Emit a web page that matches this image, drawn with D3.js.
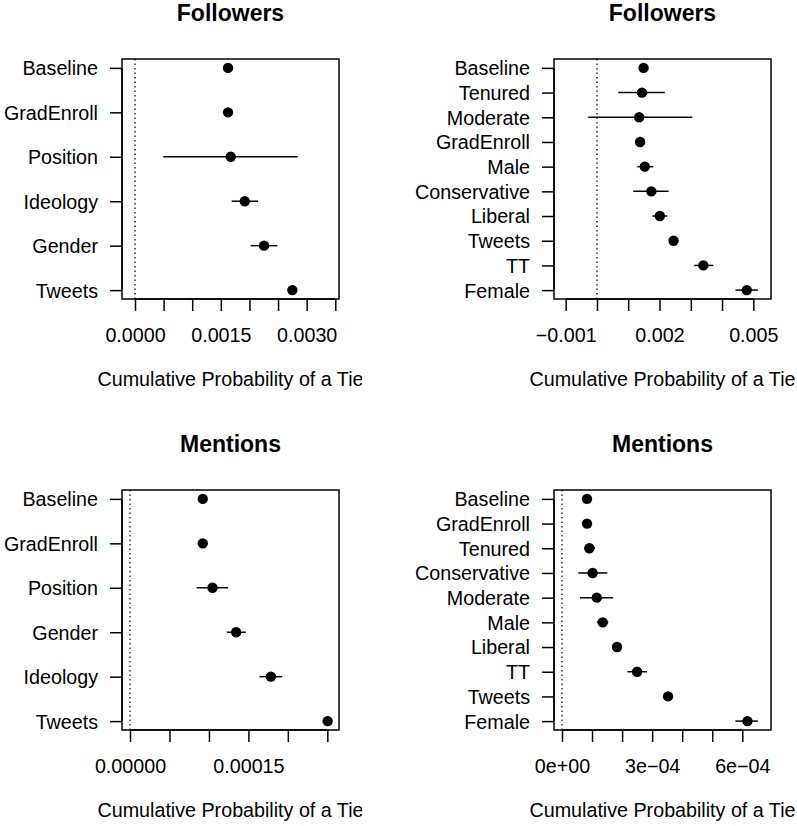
<!DOCTYPE html>
<html>
<head>
<meta charset="utf-8">
<script src="https://cdn.jsdelivr.net/npm/d3@7/dist/d3.min.js"></script>
<style>
  html, body { margin: 0; padding: 0; background: #fff; }
  svg { display: block; font-family: "Liberation Sans", Arial, Helvetica, sans-serif; }
</style>
</head>
<body>
<svg id="chart" width="797" height="826"></svg>
<script>
// ---- Followers, grouped covariates ----
const followersGroupLabels = ["Baseline", "GradEnroll", "Position", "Ideology", "Gender", "Tweets"];
const followersGroupEst = [0.001626, 0.001626, 0.001673, 0.001918, 0.002255, 0.002750];
const followersGroupLo  = [0.001626, 0.001626, 0.000495, 0.001690, 0.002022, 0.002750];
const followersGroupHi  = [0.001626, 0.001626, 0.002844, 0.002150, 0.002488, 0.002750];
const followersGroupTicks = [0, 0.0005, 0.001, 0.0015, 0.002, 0.0025, 0.003, 0.0035];
const followersGroupTickLabels = ["0.0000", "", "", "0.0015", "", "", "0.0030", ""];

// ---- Followers, individual covariates ----
const followersDetailLabels = ["Baseline", "Tenured", "Moderate", "GradEnroll", "Male", "Conservative", "Liberal", "Tweets", "TT", "Female"];
const followersDetailEst = [0.00149, 0.00144, 0.00135, 0.00138, 0.00153, 0.00174, 0.00201, 0.00245, 0.00340, 0.00479];
const followersDetailLo  = [0.00149, 0.00068, -0.00028, 0.00138, 0.00129, 0.00116, 0.00177, 0.00245, 0.00311, 0.00443];
const followersDetailHi  = [0.00149, 0.00217, 0.00305, 0.00138, 0.00180, 0.00229, 0.00225, 0.00245, 0.00372, 0.00515];
const followersDetailTicks = [-0.001, 0, 0.001, 0.002, 0.003, 0.004, 0.005];
const followersDetailTickLabels = ["\u22120.001", "", "", "0.002", "", "", "0.005"];

// ---- Mentions, grouped covariates ----
const mentionsGroupLabels = ["Baseline", "GradEnroll", "Position", "Gender", "Ideology", "Tweets"];
const mentionsGroupEst = [0.0000922, 0.0000922, 0.0001045, 0.0001345, 0.0001785, 0.0002504];
const mentionsGroupLo  = [0.0000922, 0.0000922, 0.0000846, 0.0001227, 0.0001641, 0.0002504];
const mentionsGroupHi  = [0.0000922, 0.0000922, 0.0001244, 0.0001468, 0.0001929, 0.0002504];
const mentionsGroupTicks = [0, 0.00005, 0.0001, 0.00015, 0.0002, 0.00025];
const mentionsGroupTickLabels = ["0.00000", "", "", "0.00015", "", ""];

// ---- Mentions, individual covariates ----
const mentionsDetailLabels = ["Baseline", "GradEnroll", "Tenured", "Conservative", "Moderate", "Male", "Liberal", "TT", "Tweets", "Female"];
const mentionsDetailEst = [0.0000833, 0.0000833, 0.0000910, 0.0001020, 0.0001156, 0.0001356, 0.0001830, 0.0002500, 0.0003530, 0.0006170];
const mentionsDetailLo  = [0.0000833, 0.0000833, 0.0000733, 0.0000544, 0.0000600, 0.0001156, 0.0001830, 0.0002180, 0.0003530, 0.0005770];
const mentionsDetailHi  = [0.0000833, 0.0000833, 0.0001100, 0.0001510, 0.0001700, 0.0001540, 0.0001830, 0.0002830, 0.0003530, 0.0006520];
const mentionsDetailTicks = [0, 0.0001, 0.0002, 0.0003, 0.0004, 0.0005, 0.0006];
const mentionsDetailTickLabels = ["0e+00", "", "", "3e\u221204", "", "", "6e\u221204"];

const panelTitles = ["Followers", "Followers", "Mentions", "Mentions"];
const xAxisTitle = "Cumulative Probability of a Tie";

// Axis limits for each panel (x range of the plotting box)
const panelLimits = [
  [-0.000227, 0.003565],
  [-0.001374, 0.005566],
  [-0.00001014, 0.0002648],
  [-0.0000266, 0.0006955]
];

function rows(labels, est, lo, hi) {
  return labels.map((l, i) => ({ label: l, est: est[i], lo: lo[i], hi: hi[i] }));
}

const panels = [
  { title: panelTitles[0], data: rows(followersGroupLabels, followersGroupEst, followersGroupLo, followersGroupHi),
    ticks: followersGroupTicks, tickLabels: followersGroupTickLabels, lim: panelLimits[0] },
  { title: panelTitles[1], data: rows(followersDetailLabels, followersDetailEst, followersDetailLo, followersDetailHi),
    ticks: followersDetailTicks, tickLabels: followersDetailTickLabels, lim: panelLimits[1] },
  { title: panelTitles[2], data: rows(mentionsGroupLabels, mentionsGroupEst, mentionsGroupLo, mentionsGroupHi),
    ticks: mentionsGroupTicks, tickLabels: mentionsGroupTickLabels, lim: panelLimits[2] },
  { title: panelTitles[3], data: rows(mentionsDetailLabels, mentionsDetailEst, mentionsDetailLo, mentionsDetailHi),
    ticks: mentionsDetailTicks, tickLabels: mentionsDetailTickLabels, lim: panelLimits[3] }
];

// Layout of the 2x2 grid
const boxLefts = [122, 554];
const boxTops = [59, 490];
const boxW = 217, boxH = 240;
const fontSize = 19.7;
const lineW = 1.5;

const svg = d3.select("#chart");

// clip for the x-axis title of the left column
svg.append("defs").append("clipPath").attr("id", "clipLeftCol")
  .append("rect").attr("x", 0).attr("y", 0).attr("width", 362).attr("height", 826);

panels.forEach((p, idx) => {
  const col = idx % 2, row = Math.floor(idx / 2);
  const left = boxLefts[col], top = boxTops[row];
  const right = left + boxW, bottom = top + boxH;
  const n = p.data.length;

  const x = d3.scaleLinear().domain(p.lim).range([left, right]);
  const y = d3.scaleLinear().domain([-(n - 1) * 0.04, (n - 1) * 1.04]).range([top, bottom]);

  const g = svg.append("g");

  // reference line at zero
  g.append("line")
    .attr("x1", x(0)).attr("x2", x(0))
    .attr("y1", top).attr("y2", bottom)
    .attr("stroke", "#111").attr("stroke-width", 1.3)
    .attr("stroke-dasharray", "1.5,3");

  // confidence intervals
  g.selectAll("line.ci").data(p.data).enter().append("line")
    .attr("class", "ci")
    .attr("x1", d => x(d.lo)).attr("x2", d => x(d.hi))
    .attr("y1", (d, i) => y(i)).attr("y2", (d, i) => y(i))
    .attr("stroke", "#000").attr("stroke-width", lineW);

  // point estimates
  g.selectAll("circle").data(p.data).enter().append("circle")
    .attr("cx", d => x(d.est)).attr("cy", (d, i) => y(i))
    .attr("r", 5.2).attr("fill", "#000");

  // plotting box
  g.append("rect")
    .attr("x", left).attr("y", top).attr("width", boxW).attr("height", boxH)
    .attr("fill", "none").attr("stroke", "#000").attr("stroke-width", lineW);

  // x axis
  const xAxis = d3.axisBottom(x).tickValues(p.ticks)
    .tickFormat((d, i) => p.tickLabels[i])
    .tickSize(12).tickPadding(20).tickSizeOuter(0);
  const gx = g.append("g").attr("transform", `translate(0,${bottom})`).call(xAxis);
  gx.select(".domain").remove();
  gx.append("line")
    .attr("x1", x(p.ticks[0])).attr("x2", x(p.ticks[p.ticks.length - 1]))
    .attr("y1", 0).attr("y2", 0)
    .attr("stroke", "#000").attr("stroke-width", lineW);
  gx.selectAll(".tick line").attr("stroke-width", lineW);
  gx.selectAll(".tick text")
    .attr("font-size", fontSize).attr("font-family", "Liberation Sans, Arial, sans-serif")
    .attr("fill", "#000").attr("dy", 0).attr("y", 43);

  // y axis with category labels
  const yAxis = d3.axisLeft(y).tickValues(d3.range(n))
    .tickFormat(i => p.data[i].label)
    .tickSize(12).tickPadding(12).tickSizeOuter(0);
  const gy = g.append("g").attr("transform", `translate(${left},0)`).call(yAxis);
  gy.select(".domain").remove();
  gy.append("line")
    .attr("x1", 0).attr("x2", 0)
    .attr("y1", y(0)).attr("y2", y(n - 1))
    .attr("stroke", "#000").attr("stroke-width", lineW);
  gy.selectAll(".tick line").attr("stroke-width", lineW);
  gy.selectAll(".tick text")
    .attr("font-size", fontSize).attr("font-family", "Liberation Sans, Arial, sans-serif")
    .attr("fill", "#000").attr("dy", "0.35em");

  // panel title
  g.append("text")
    .attr("x", (left + right) / 2).attr("y", top - 38)
    .attr("text-anchor", "middle")
    .attr("font-size", 23).attr("font-weight", "bold")
    .text(p.title);

  // x axis title
  const xt = g.append("text")
    .attr("x", (left + right) / 2).attr("y", bottom + 87)
    .attr("text-anchor", "middle")
    .attr("font-size", fontSize)
    .text(xAxisTitle);
  if (col === 0) xt.attr("clip-path", "url(#clipLeftCol)");
});
</script>
</body>
</html>
